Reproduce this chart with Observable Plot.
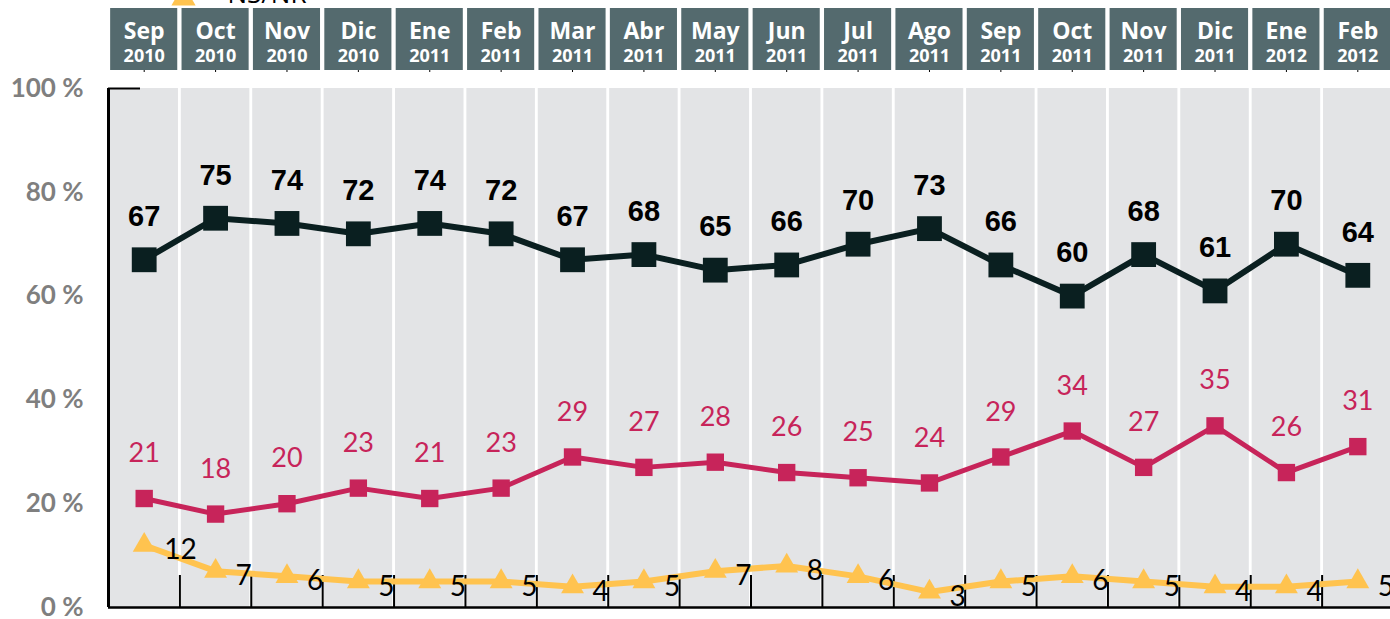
<!DOCTYPE html>
<html>
<head>
<meta charset="utf-8">
<script src="https://cdn.jsdelivr.net/npm/d3@7"></script>
<script src="https://cdn.jsdelivr.net/npm/@observablehq/plot@0.6"></script>
<style>
  html, body { margin: 0; padding: 0; background: #ffffff; overflow: hidden; }
  #chart svg { display: block; max-width: none; }
</style>
</head>
<body>
<div id="chart"></div>
<script>
// ---- Data ----
const months = ["Sep","Oct","Nov","Dic","Ene","Feb","Mar","Abr","May","Jun","Jul","Ago","Sep","Oct","Nov","Dic","Ene","Feb"];
const years  = ["2010","2010","2010","2010","2011","2011","2011","2011","2011","2011","2011","2011","2011","2011","2011","2011","2012","2012"];
const seriesBlack  = [67,75,74,72,74,72,67,68,65,66,70,73,66,60,68,61,70,64];
const seriesRed    = [21,18,20,23,21,23,29,27,28,26,25,24,29,34,27,35,26,31];
const seriesYellow = [12,7,6,5,5,5,4,5,7,8,6,3,5,6,5,4,4,5];
const legendLabel  = "NS/NR";
const yTicks = [0,20,40,60,80,100];

// ---- Styles ----
const C_HEADER = "#546a6e";
const C_COL = "#e3e4e6";
const C_BLACK = "#0a1f20";
const C_RED = "#c7245a";
const C_YEL = "#ffc34f";
const F_HEAD = "'Open Sans', sans-serif";
const F_NUM = "Lato, 'Open Sans', sans-serif";
const F_BOLD = "'Liberation Sans', Arial, sans-serif";

const rows = months.map((m, i) => ({
  i, m, yr: years[i], a: seriesBlack[i], d: seriesRed[i], n: seriesYellow[i]
}));
const xScale = {domain: [-0.5, months.length - 0.5], range: [108, 1393]};
const boundaries = months.slice(1).map((_, i) => i + 0.5);

// ---- Header (month boxes + legend) ----
const header = Plot.plot({
  width: 1390, height: 72,
  marginTop: 8, marginBottom: 2, marginLeft: 108, marginRight: 0,
  x: xScale,
  y: {axis: null},
  marks: [
    Plot.rect(rows, {x1: d => d.i - 0.47, x2: d => d.i + 0.47, fill: C_HEADER}),
    Plot.text(rows, {x: "i", text: "m", frameAnchor: "top", lineAnchor: "middle", dy: 23, fill: "white",
      fontSize: 23, fontWeight: "bold", fontFamily: F_HEAD}),
    Plot.text(rows, {x: "i", text: "yr", frameAnchor: "top", lineAnchor: "middle", dy: 48, fill: "white",
      fontSize: 18, fontWeight: "bold", fontFamily: F_HEAD}),
    Plot.dot([legendLabel], {frameAnchor: "top-left", dx: 75, dy: -10, symbol: "triangle",
      r: 9, fill: C_YEL}),
    Plot.text([legendLabel], {text: d => d, frameAnchor: "top-left", lineAnchor: "middle", dx: 119, dy: -14,
      textAnchor: "start", fontSize: 26, fill: "black", fontFamily: F_HEAD})
  ]
});

// ---- Main chart ----
const main = Plot.plot({
  width: 1390, height: 547,
  marginTop: 16, marginBottom: 12, marginLeft: 108, marginRight: 0,
  x: xScale,
  y: {domain: [0, 100]},
  marks: [
    Plot.rect(rows, {x1: d => d.i - 0.48, x2: d => d.i + 0.48, fill: C_COL}),
    Plot.axisY(yTicks, {tickSize: 0, tickPadding: 25, tickFormat: d => d + " %",
      fontSize: 26, fontWeight: "bold", color: "#7f7f7f", fontFamily: F_NUM, label: null}),
    Plot.axisY([100], {tickSize: -32, tickFormat: () => "", strokeWidth: 2, color: "black", label: null}),
    Plot.axisX(boundaries, {anchor: "bottom", tickSize: -32, tickFormat: () => "",
      strokeWidth: 2, color: "black", label: null}),
    Plot.ruleX([-0.5], {stroke: "black", strokeWidth: 3}),
    Plot.ruleY([0], {stroke: "black", strokeWidth: 2.5}),

    Plot.line(rows, {x: "i", y: "n", stroke: C_YEL, strokeWidth: 6}),
    Plot.dot(rows, {x: "i", y: "n", symbol: "triangle", r: 8.5, fill: C_YEL}),
    Plot.line(rows, {x: "i", y: "d", stroke: C_RED, strokeWidth: 5}),
    Plot.dot(rows, {x: "i", y: "d", symbol: "square", r: 9.8, fill: C_RED}),
    Plot.line(rows, {x: "i", y: "a", stroke: C_BLACK, strokeWidth: 6}),
    Plot.dot(rows, {x: "i", y: "a", symbol: "square", r: 14, fill: C_BLACK}),

    Plot.text(rows, {x: "i", y: "a", text: "a", dy: -43, fontSize: 29, fontWeight: "bold",
      fill: "black", fontFamily: F_BOLD}),
    Plot.text(rows, {x: "i", y: "d", text: "d", dy: -45, fontSize: 27,
      fill: C_RED, fontFamily: F_NUM}),
    Plot.text(rows, {x: "i", y: "n", text: "n", dx: 20, dy: 5, textAnchor: "start", fontSize: 28,
      fill: "black", fontFamily: F_NUM})
  ]
});

const host = document.getElementById("chart");
host.appendChild(header);
host.appendChild(main);
</script>
</body>
</html>
